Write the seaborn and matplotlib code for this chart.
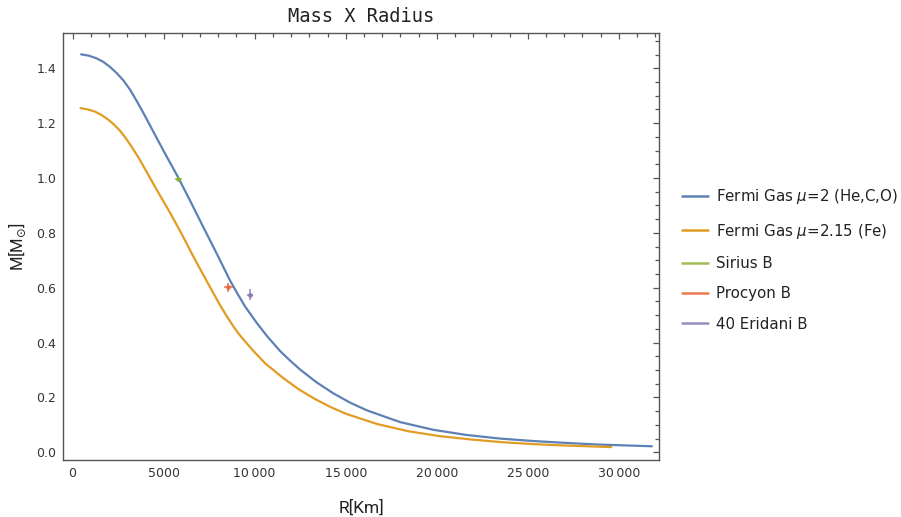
import matplotlib
matplotlib.use("Agg")
import matplotlib.pyplot as plt
from matplotlib.lines import Line2D
from matplotlib.ticker import MultipleLocator, FixedLocator, FixedFormatter
import pandas as pd
import seaborn as sns

# Mass-radius relation of a degenerate Fermi gas (R in km, M in solar masses)
r_he = [470, 900, 1330, 1700, 2060, 2420, 2790, 3160, 3530, 3900, 4260,
        4990, 5810, 6450, 7180, 7920, 8650, 9050, 9470, 10110, 10700, 11400,
        11950, 12490, 13400, 14320, 15240, 16160, 17990, 19810, 21650, 23480,
        25310, 27140, 28970, 31810]
m_he = [1.451, 1.446, 1.436, 1.423, 1.405, 1.383, 1.356, 1.322, 1.280, 1.236,
        1.191, 1.100, 1.001, 0.918, 0.821, 0.724, 0.626, 0.579, 0.532, 0.472,
        0.422, 0.369, 0.334, 0.302, 0.255, 0.215, 0.181, 0.153, 0.110, 0.082,
        0.063, 0.050, 0.041, 0.034, 0.028, 0.022]

r_fe = [440, 840, 1240, 1580, 1920, 2260, 2600, 2940, 3280, 3620, 3960,
        4640, 5400, 6000, 6680, 7370, 8050, 8430, 8810, 9100, 9400, 9950,
        10600, 11620, 12460, 13320, 14170, 15030, 16730, 18420, 20140, 21840,
        23540, 25240, 26940, 29580]
m_fe = [1.255, 1.250, 1.242, 1.230, 1.215, 1.196, 1.173, 1.144, 1.110, 1.075,
        1.035, 0.955, 0.868, 0.795, 0.708, 0.624, 0.542, 0.500, 0.461, 0.434,
        0.410, 0.368, 0.323, 0.268, 0.228, 0.194, 0.165, 0.140, 0.103, 0.077,
        0.059, 0.047, 0.037, 0.030, 0.025, 0.019]

# Observed white dwarfs
star_names = ["Sirius B", "Procyon B", "40 Eridani B"]
star_r = [5810, 8556, 9747]
star_r_err = [210, 240, 180]
star_m = [0.998, 0.602, 0.575]
star_m_err = [0.007, 0.016, 0.019]

curve_labels = [r"Fermi Gas $\mu$=2 (He,C,O)", r"Fermi Gas $\mu$=2.15 (Fe)"]
x_ticks = [0, 5000, 10000, 15000, 20000, 25000, 30000]
x_tick_labels = ["0", "5000", "10\u2009000", "15\u2009000", "20\u2009000",
                 "25\u2009000", "30\u2009000"]
y_ticks = [0.0, 0.2, 0.4, 0.6, 0.8, 1.0, 1.2, 1.4]

curve_colors = ["#5E81B5", "#E19C24"]
star_colors = ["#8FB032", "#EB6235", "#8778B3"]

sns.set_theme(style="white")
plt.rcParams["font.family"] = ["DejaVu Sans"]

fig = plt.figure(figsize=(9.01, 5.17), dpi=100)
ax = fig.add_axes([0.0703, 0.1103, 0.6611, 0.8265])

df = pd.concat([
    pd.DataFrame({"R": r_he, "M": m_he, "curve": curve_labels[0]}),
    pd.DataFrame({"R": r_fe, "M": m_fe, "curve": curve_labels[1]}),
])
sns.lineplot(data=df, x="R", y="M", hue="curve", palette=curve_colors,
             sort=False, estimator=None, linewidth=1.6, ax=ax, legend=False)
for ln in ax.lines:
    ln.set_solid_joinstyle("round")
    ln.set_solid_capstyle("round")

for i in range(len(star_names)):
    ax.errorbar([star_r[i]], [star_m[i]], xerr=[star_r_err[i]],
                yerr=[star_m_err[i]], fmt="o", ms=2.5, color=star_colors[i],
                ecolor=star_colors[i], elinewidth=1.3, capsize=0, alpha=0.75)

ax.set_xlim(-505, 32200)
ax.set_ylim(-0.028, 1.530)

ax.xaxis.set_major_locator(FixedLocator(x_ticks))
ax.xaxis.set_major_formatter(FixedFormatter(x_tick_labels))
ax.xaxis.set_minor_locator(MultipleLocator(1000))
ax.yaxis.set_major_locator(FixedLocator(y_ticks))
ax.yaxis.set_minor_locator(MultipleLocator(0.05))
ax.set_yticklabels([f"{v:.1f}" for v in y_ticks])
for lab in ax.get_xticklabels() + ax.get_yticklabels():
    lab.set_fontfamily("DejaVu Sans")
    lab.set_fontsize(9)
    lab.set_color("#333333")

ax.tick_params(which="both", direction="in", top=True, right=True,
               color="#555555", width=0.9)
ax.tick_params(which="major", length=4.5, pad=5)
ax.tick_params(which="minor", length=2.6)
for sp in ax.spines.values():
    sp.set_color("#555555")
    sp.set_linewidth(1.0)

ax.set_title("Mass X Radius", family="DejaVu Sans Mono", fontsize=13.5,
             color="#222222", pad=8)
ax.set_xlabel("R[Km]", family="Roboto", fontsize=12.5,
              color="#222222", labelpad=14)
ax.set_ylabel(r"M[M$_{\odot}$]", family="Roboto", fontsize=12,
              color="#222222", labelpad=6)

handles = [Line2D([], [], color=c, lw=1.8) for c in curve_colors] + \
          [Line2D([], [], color=c, lw=1.8, alpha=0.85) for c in star_colors]
labels = curve_labels + star_names
fig.legend(handles, labels, loc="center left", bbox_to_anchor=(0.742, 0.498),
           frameon=False, fontsize=10.8, handlelength=1.7, handletextpad=0.55,
           labelspacing=1.02, labelcolor="#222222")

fig.savefig("out.png", dpi=100, facecolor="white")
